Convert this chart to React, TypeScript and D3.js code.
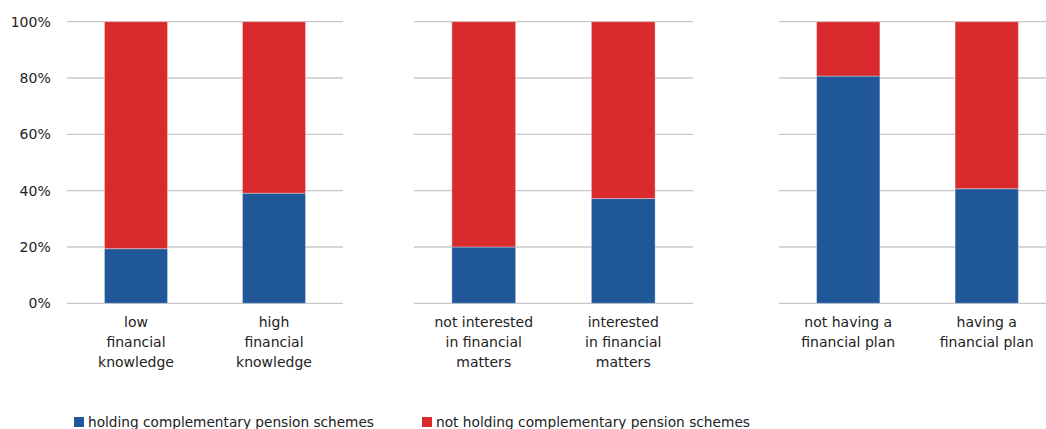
import React from "react";
import * as d3 from "d3";

const categories: string[][] = [
  ["low", "financial", "knowledge"],
  ["high", "financial", "knowledge"],
  ["not interested", "in financial", "matters"],
  ["interested", "in financial", "matters"],
  ["not having a", "financial plan"],
  ["having a", "financial plan"],
];
const panelOf = [0, 0, 1, 1, 2, 2];
const holding = [19.4, 39.1, 20.0, 37.2, 80.7, 40.7];
const notHolding = [80.6, 60.9, 80.0, 62.8, 19.3, 59.3];
const tickValues = [0, 20, 40, 60, 80, 100];
const tickLabels = ["0%", "20%", "40%", "60%", "80%", "100%"];
const seriesNames = ["holding complementary pension schemes", "not holding complementary pension schemes"];

const W = 1046;
const H = 429;
const BLUE = "#1f5799";
const RED = "#d92b2d";
const GRID = "#c8c8c8";
const TEXT = "#222";
const FONT = "'DejaVu Sans', sans-serif";

const panelRanges: [number, number][] = [
  [67, 343],
  [414, 693],
  [779, 1056],
];

export default function App() {
  const y = d3.scaleLinear().domain([0, 100]).range([303.3, 21.7]);
  const panels = panelRanges.map((r, p) => {
    const idx = panelOf.map((pp, i) => (pp === p ? i : -1)).filter((i) => i >= 0);
    const x = d3
      .scaleBand<number>()
      .domain(idx)
      .range(r)
      .paddingInner(0.543)
      .paddingOuter(0.2715);
    return { r, idx, x };
  });

  const legend = [
    { sq: 74, tx: 88, len: 286, color: BLUE, name: seriesNames[0] },
    { sq: 422, tx: 436, len: 314, color: RED, name: seriesNames[1] },
  ];

  return (
    <svg
      width={W}
      height={H}
      style={{ position: "absolute", left: 0, top: 0, background: "#fff" }}
      fontFamily={FONT}
    >
      <rect x={0} y={0} width={W} height={H} fill="#fff" />
      {panels.map((pn, p) => (
        <g key={"g" + p}>
          {tickValues.map((t) => (
            <line
              key={t}
              x1={pn.r[0]}
              x2={pn.r[1]}
              y1={y(t)}
              y2={y(t)}
              stroke={GRID}
              strokeWidth={1.3}
            />
          ))}
        </g>
      ))}
      {tickValues.map((t, i) => (
        <text
          key={"t" + t}
          x={50.7}
          y={y(t)}
          dy="0.36em"
          textAnchor="end"
          fontSize={14}
          fill={TEXT}
        >
          {tickLabels[i]}
        </text>
      ))}
      {panels.map((pn, p) => (
        <g key={"b" + p}>
          {pn.idx.map((i) => {
            const x0 = pn.x(i)!;
            const bw = pn.x.bandwidth();
            return (
              <g key={i}>
                <rect
                  x={x0}
                  y={y(holding[i])}
                  width={bw}
                  height={y(0) - y(holding[i])}
                  fill={BLUE}
                  stroke="rgba(255,255,255,0.35)"
                  strokeWidth={1}
                />
                <rect
                  x={x0}
                  y={y(holding[i] + notHolding[i])}
                  width={bw}
                  height={y(holding[i]) - y(holding[i] + notHolding[i])}
                  fill={RED}
                  stroke="rgba(255,255,255,0.35)"
                  strokeWidth={1}
                />
              </g>
            );
          })}
        </g>
      ))}
      {panels.map((pn, p) => (
        <g key={"c" + p}>
          {pn.idx.map((i) => {
            const cx = pn.x(i)! + pn.x.bandwidth() / 2;
            return (
              <text key={i} x={cx} y={326.5} textAnchor="middle" fontSize={14} fill={TEXT}>
                {categories[i].map((line, k) => (
                  <tspan key={k} x={cx} dy={k === 0 ? 0 : 20.3}>
                    {line}
                  </tspan>
                ))}
              </text>
            );
          })}
        </g>
      ))}
      {legend.map((l, k) => (
        <g key={"l" + k}>
          <rect x={l.sq} y={417} width={10} height={10} fill={l.color} />
          <text
            x={l.tx}
            y={427}
            fontSize={13.7}
            fill={TEXT}
            textLength={l.len}
            lengthAdjust="spacingAndGlyphs"
          >
            {l.name}
          </text>
        </g>
      ))}
    </svg>
  );
}
